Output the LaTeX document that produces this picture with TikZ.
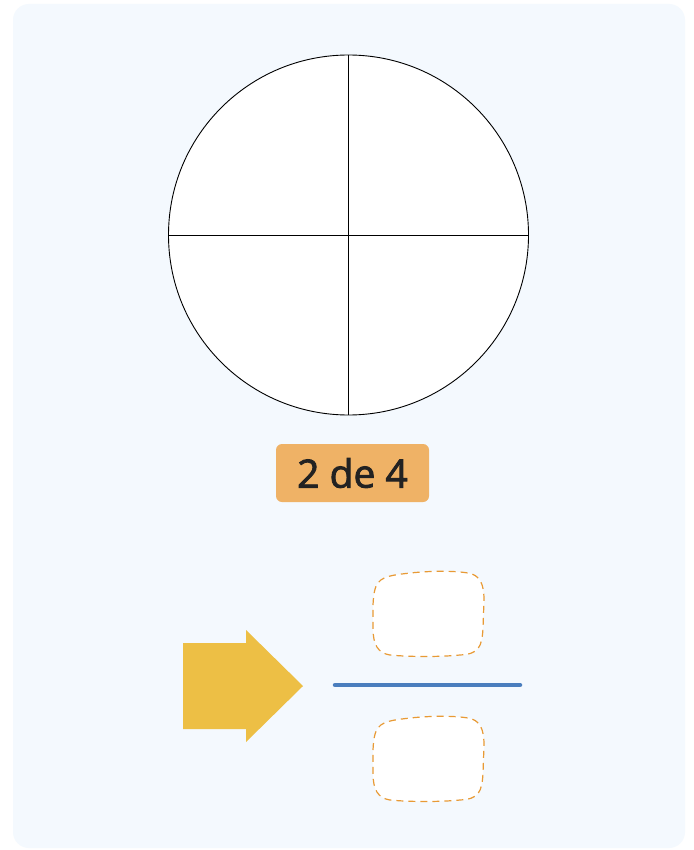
\documentclass[tikz,border=0pt]{standalone}
\usepackage{fontspec}
\setmainfont{Open Sans}
\newfontfamily\lblfont{Open Sans}[FakeBold=2.2]
\definecolor{bgblue}{HTML}{F4F9FE}
\definecolor{labelorange}{HTML}{EFB266}
\definecolor{dashorange}{HTML}{E89A35}
\definecolor{arrowyellow}{HTML}{EDBF45}
\definecolor{lineblue}{HTML}{4A7EBE}
\definecolor{textdark}{HTML}{222222}
\tikzset{
  wholecircle/.style={circle, draw=black, line width=0.9pt, fill=white, minimum size=360pt, inner sep=0pt},
  divline/.style={draw=black, line width=0.9pt},
  labelbox/.style={fill=labelorange, rounded corners=6pt, minimum width=153pt, minimum height=58pt, inner sep=0pt, text=textdark, font=\lblfont\fontsize{39}{44}\selectfont},
  answerbox/.style={draw=dashorange, line width=1.2pt, dash pattern=on 7pt off 5pt, fill=white},
  fracline/.style={draw=lineblue, line width=4.5pt, line cap=round},
}
\begin{document}
\begin{tikzpicture}[x=1pt,y=-1pt]
\useasboundingbox (0,0) rectangle (693,850);
\fill[white] (0,0) rectangle (693,850);
\fill[bgblue, rounded corners=16pt] (13,4) rectangle (685,848);
% circle
\node[wholecircle] (C) at (348.5,235) {};
\draw[divline] (C.north) -- (C.south);
\draw[divline] (C.west) -- (C.east);
% label
\node[labelbox] (L) at (352.5,473) {2 de 4};
% arrow
\fill[arrowyellow] (183,643) -- (246,643) -- (246,630) -- (303,686) -- (246,742) -- (246,729) -- (183,729) -- cycle;
% answer boxes
\foreach \dy/\nm in {0/top,145/bot}{
\begin{scope}[yshift=-\dy pt]
\path[answerbox] (373,605) .. controls (374,583) and (378,578) .. (395,575)
  .. controls (420,571) and (450,570) .. (468,573)
  .. controls (480,575) and (484,584) .. (484,600)
  -- (483,628)
  .. controls (482,648) and (478,654) .. (460,655)
  .. controls (440,657) and (410,657) .. (390,655)
  .. controls (378,653) and (373,645) .. (373,628)
  -- cycle;
\end{scope}
}
% fraction line
\coordinate (F1) at (335,685);
\coordinate (F2) at (520,685);
\draw[fracline] (F1) -- (F2);
\end{tikzpicture}
\end{document}
